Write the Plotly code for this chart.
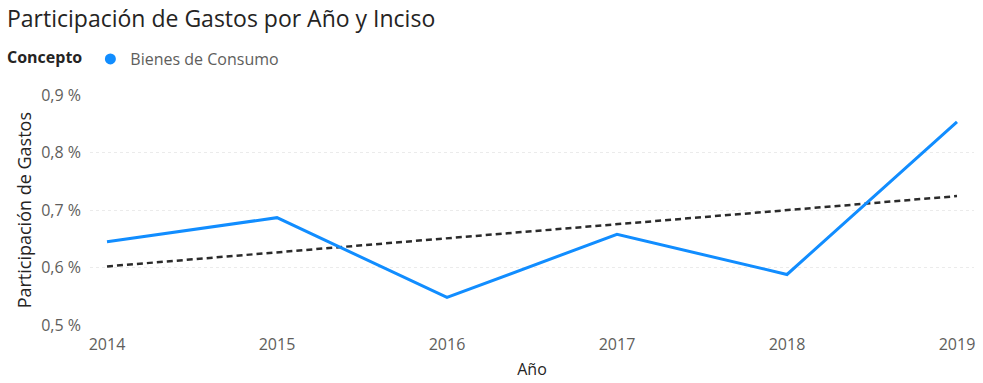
import numpy as np
import plotly.graph_objects as go

# Participación de gastos (en %) del inciso Bienes de Consumo por año
anios = [2014, 2015, 2016, 2017, 2018, 2019]
bienes_consumo = [0.645, 0.687, 0.548, 0.658, 0.588, 0.854]

y_ticks = [0.5, 0.6, 0.7, 0.8, 0.9]
y_tick_labels = ["0,5 %", "0,6 %", "0,7 %", "0,8 %", "0,9 %"]

# Línea de tendencia lineal (mínimos cuadrados)
pendiente, ordenada = np.polyfit(anios, bienes_consumo, 1)
tendencia = [pendiente * a + ordenada for a in anios]

AZUL = "#118DFF"
GRIS_TEXTO = "#605E5C"
OSCURO = "#252423"
FUENTE = "Open Sans, Noto Sans, sans-serif"
W, H = 983, 383

fig = go.Figure()

fig.add_trace(go.Scatter(
    x=anios, y=tendencia, mode="lines",
    line=dict(color="#2b2b2b", width=2.5, dash="6px,4px"),
    showlegend=False, hoverinfo="skip",
))

fig.add_trace(go.Scatter(
    x=anios, y=bienes_consumo, mode="lines",
    name="Bienes de Consumo", legendgroup="bc",
    line=dict(color=AZUL, width=3),
    showlegend=False,
))

# Entrada de leyenda con símbolo circular
fig.add_trace(go.Scatter(
    x=[None], y=[None], mode="markers",
    name="Bienes de Consumo", legendgroup="bc",
    marker=dict(color=AZUL, size=11, symbol="circle"),
))

fig.update_layout(
    width=W, height=H,
    margin=dict(l=90, r=8, t=91, b=57),
    paper_bgcolor="white", plot_bgcolor="white",
    font=dict(family=FUENTE, color=GRIS_TEXTO, size=16),
    title=dict(
        text="Participación de Gastos por Año y Inciso",
        x=7 / W, xref="container", xanchor="left",
        y=1 - 19 / H, yref="container", yanchor="middle",
        font=dict(size=23, color=OSCURO, family=FUENTE),
    ),
    legend=dict(
        orientation="h",
        xref="container", yref="container",
        x=5 / W, xanchor="left", y=1 - 59 / H, yanchor="middle",
        title=dict(text="<b>Concepto</b>", font=dict(size=16, color=OSCURO)),
        font=dict(size=16, color=GRIS_TEXTO),
        itemwidth=30,
    ),
    showlegend=True,
)

fig.update_xaxes(
    range=[2013.9, 2019.1],
    tickmode="array", tickvals=anios, ticktext=[str(a) for a in anios],
    showgrid=False, zeroline=False, showline=False,
    ticks="", ticklabelstandoff=8,
    tickfont=dict(size=16, color=GRIS_TEXTO),
    title=dict(text="Año", font=dict(size=16, color=OSCURO), standoff=9),
)

fig.update_yaxes(
    range=[0.5, 0.9],
    tickmode="array", tickvals=y_ticks, ticktext=y_tick_labels,
    showgrid=True, gridcolor="#EBEBEB", griddash="dot", gridwidth=1,
    zeroline=False, showline=False, ticks="", ticklabelstandoff=8,
    tickfont=dict(size=16, color=GRIS_TEXTO),
    title=dict(text="Participación de Gastos", font=dict(size=18, color=OSCURO), standoff=4),
)

fig.write_html("out.html")
